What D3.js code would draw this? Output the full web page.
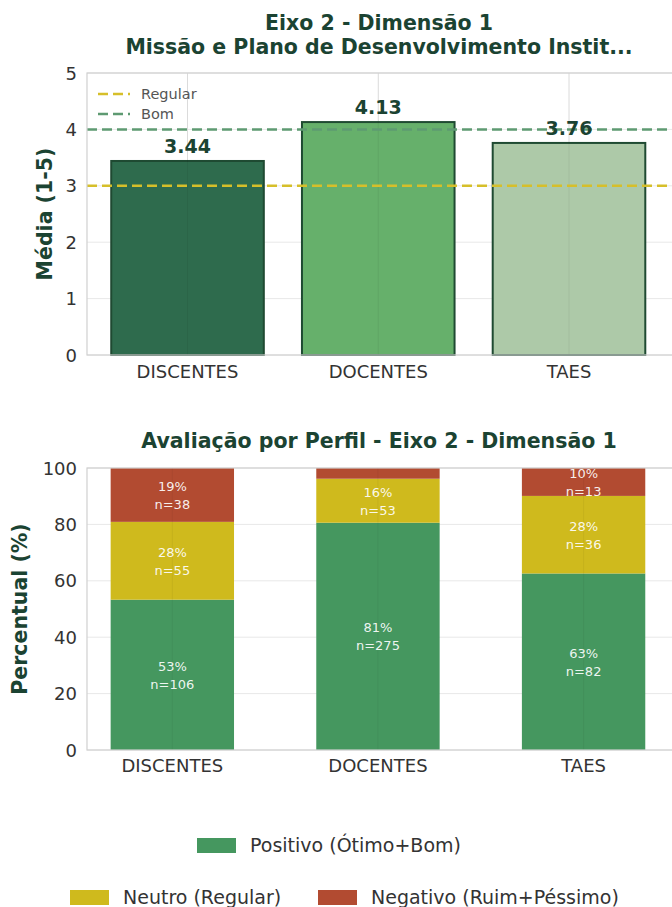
<!DOCTYPE html>
<html><head><meta charset="utf-8">
<script src="https://cdn.jsdelivr.net/npm/d3@7"></script>
<style>body{margin:0;background:#fff}svg{display:block;font-family:"DejaVu Sans",sans-serif}</style>
</head><body><svg id="c" width="672" height="907"></svg>
<script>
const categories = ["DISCENTES","DOCENTES","TAES"];
const means = [3.44, 4.13, 3.76];
const meanColors = ["#2e6b4d","#66b06b","#adc9a8"];
const refLabels = ["Regular","Bom"];
const refValues = [3, 4];
const refColors = ["#d6bf2a","#5e9a72"];
const positivoN = [106, 275, 82];
const neutroN = [55, 53, 36];
const negativoN = [38, 13, 13];
const positivoPct = [53.3, 80.6, 62.6];
const neutroPct = [27.6, 15.6, 27.5];
const negativoPct = [19.1, 3.8, 9.9];
const seriesNames = ["Positivo (Ótimo+Bom)","Neutro (Regular)","Negativo (Ruim+Péssimo)"];
const seriesColors = ["#45975f","#cfba1d","#b24b31"];
const meanTicks = [0,1,2,3,4,5];
const pctTicks = [0,20,40,60,80,100];

const svg = d3.select("#c");
const titleColor = "#1b4332", textColor = "#333", spine = "#d0d0d0", gridC = "#e8e8e8";
const tickFS = 18, titleFS = 20.5;

// ---------- Top chart ----------
const L = 87, R = 672, T1 = 73, B1 = 355;
const x1 = d3.scaleLinear().domain([-0.527, 2.54]).range([L, R]);
const y1 = d3.scaleLinear().domain([0,5]).range([B1, T1]);
const g1 = svg.append("g");
g1.selectAll(".hg").data(meanTicks).join("line").attr("x1",L).attr("x2",R)
  .attr("y1",d=>y1(d)).attr("y2",d=>y1(d)).attr("stroke",gridC).attr("stroke-width",1);
g1.selectAll(".vg").data(categories).join("line").attr("x1",(d,i)=>x1(i)).attr("x2",(d,i)=>x1(i))
  .attr("y1",T1).attr("y2",B1).attr("stroke",gridC).attr("stroke-width",1);
const bw1 = x1(0.4)-x1(-0.4);
g1.selectAll(".bar").data(means).join("rect")
  .attr("x",(d,i)=>x1(i)-bw1/2).attr("width",bw1)
  .attr("y",d=>y1(d)).attr("height",d=>B1-y1(d))
  .attr("fill",(d,i)=>meanColors[i]).attr("stroke","#1f4a32").attr("stroke-width",2);
g1.selectAll(".vg2").data(categories).join("line").attr("x1",(d,i)=>x1(i)).attr("x2",(d,i)=>x1(i))
  .attr("y1",T1).attr("y2",B1).attr("stroke","#000").attr("stroke-opacity",0.06).attr("stroke-width",1);
g1.selectAll(".ref").data(refValues).join("line").attr("x1",L).attr("x2",R)
  .attr("y1",d=>y1(d)).attr("y2",d=>y1(d)).attr("stroke",(d,i)=>refColors[i])
  .attr("stroke-width",2.5).attr("stroke-dasharray","10,5");
g1.selectAll(".vl").data(means).join("text")
  .attr("x",(d,i)=>x1(i)).attr("y",d=>y1(d)-8).attr("text-anchor","middle")
  .attr("font-size",19).attr("font-weight","bold").attr("fill",titleColor)
  .text(d=>d.toFixed(2));
g1.append("rect").attr("x",L).attr("y",T1).attr("width",R-L+2).attr("height",B1-T1)
  .attr("fill","none").attr("stroke",spine).attr("stroke-width",1.2);
g1.selectAll(".yt").data(meanTicks).join("text").attr("x",L-10).attr("y",d=>y1(d)+6.5)
  .attr("text-anchor","end").attr("font-size",tickFS).attr("fill",textColor).text(d=>d);
g1.selectAll(".xt").data(categories).join("text").attr("x",(d,i)=>x1(i)).attr("y",B1+23)
  .attr("text-anchor","middle").attr("font-size",tickFS).attr("fill",textColor).text(d=>d);
g1.append("text").attr("transform",`translate(52,${(T1+B1)/2}) rotate(-90)`).attr("text-anchor","middle")
  .attr("font-size",titleFS).attr("font-weight","bold").attr("fill",titleColor).text("Média (1-5)");
const tx = 379;
g1.append("text").attr("x",tx).attr("y",30).attr("text-anchor","middle").attr("font-size",titleFS)
  .attr("font-weight","bold").attr("fill",titleColor).text("Eixo 2 - Dimensão 1");
g1.append("text").attr("x",tx).attr("y",54).attr("text-anchor","middle").attr("font-size",titleFS)
  .attr("font-weight","bold").attr("fill",titleColor).text("Missão e Plano de Desenvolvimento Instit...");
refLabels.forEach((lab,i)=>{
  const yy = 94 + i*20;
  g1.append("line").attr("x1",98).attr("x2",130).attr("y1",yy).attr("y2",yy)
    .attr("stroke",refColors[i]).attr("stroke-width",2.5).attr("stroke-dasharray","10,5");
  g1.append("text").attr("x",141).attr("y",yy+5).attr("font-size",14.5).attr("fill","#555").text(lab);
});

// ---------- Bottom chart ----------
const T2 = 468, B2 = 750;
const x2 = d3.scaleLinear().domain([-0.415, 2.43]).range([L, R]);
const y2 = d3.scaleLinear().domain([0,100]).range([B2, T2]);
const g2 = svg.append("g");
g2.selectAll(".hg").data(pctTicks).join("line").attr("x1",L).attr("x2",R)
  .attr("y1",d=>y2(d)).attr("y2",d=>y2(d)).attr("stroke",gridC).attr("stroke-width",1);
const bw2 = x2(0.3)-x2(-0.3);
const segs = [];
categories.forEach((c,i)=>{
  const ns = [positivoN[i], neutroN[i], negativoN[i]];
  const ps = [positivoPct[i], neutroPct[i], negativoPct[i]];
  let acc = 0;
  ps.forEach((p,k)=>{
    segs.push({i, k, v:ns[k], p, y0:acc, y1:acc+p});
    acc += p;
  });
});
g2.selectAll(".seg").data(segs).join("rect")
  .attr("x",d=>x2(d.i)-bw2/2).attr("width",bw2)
  .attr("y",d=>y2(Math.min(d.y1,100))).attr("height",d=>y2(d.y0)-y2(Math.min(d.y1,100)))
  .attr("fill",d=>seriesColors[d.k]);
g2.selectAll(".vg2").data(categories).join("line").attr("x1",(d,i)=>x2(i)).attr("x2",(d,i)=>x2(i))
  .attr("y1",T2).attr("y2",B2).attr("stroke","#000").attr("stroke-opacity",0.05).attr("stroke-width",1);
const lab = g2.selectAll(".sl").data(segs.filter(d=>d.p>=5)).join("text")
  .attr("text-anchor","middle").attr("font-size",13).attr("fill","#fff").attr("fill-opacity",0.92);
lab.append("tspan").attr("x",d=>x2(d.i)).attr("y",d=>y2((d.y0+d.y1)/2)-4).text(d=>Math.round(d.p)+"%");
lab.append("tspan").attr("x",d=>x2(d.i)).attr("y",d=>y2((d.y0+d.y1)/2)+14).text(d=>"n="+d.v);
g2.append("rect").attr("x",L).attr("y",T2).attr("width",R-L+2).attr("height",B2-T2)
  .attr("fill","none").attr("stroke",spine).attr("stroke-width",1.2);
g2.selectAll(".yt").data(pctTicks).join("text").attr("x",L-10).attr("y",d=>y2(d)+6.5)
  .attr("text-anchor","end").attr("font-size",tickFS).attr("fill",textColor).text(d=>d);
g2.selectAll(".xt").data(categories).join("text").attr("x",(d,i)=>x2(i)).attr("y",B2+22)
  .attr("text-anchor","middle").attr("font-size",tickFS).attr("fill",textColor).text(d=>d);
g2.append("text").attr("transform",`translate(27,${(T2+B2)/2}) rotate(-90)`).attr("text-anchor","middle")
  .attr("font-size",titleFS).attr("font-weight","bold").attr("fill",titleColor).text("Percentual (%)");
g2.append("text").attr("x",tx).attr("y",448).attr("text-anchor","middle").attr("font-size",titleFS)
  .attr("font-weight","bold").attr("fill",titleColor).text("Avaliação por Perfil - Eixo 2 - Dimensão 1");

const legPos = [[197,838],[70,890],[318,890]];
seriesNames.forEach((n,k)=>{
  const [lx,ly] = legPos[k];
  g2.append("rect").attr("x",lx).attr("y",ly).attr("width",39).attr("height",15).attr("fill",seriesColors[k]);
  g2.append("text").attr("x",lx+53).attr("y",ly+14).attr("font-size",19).attr("fill",textColor).text(n);
});
</script></body></html>
